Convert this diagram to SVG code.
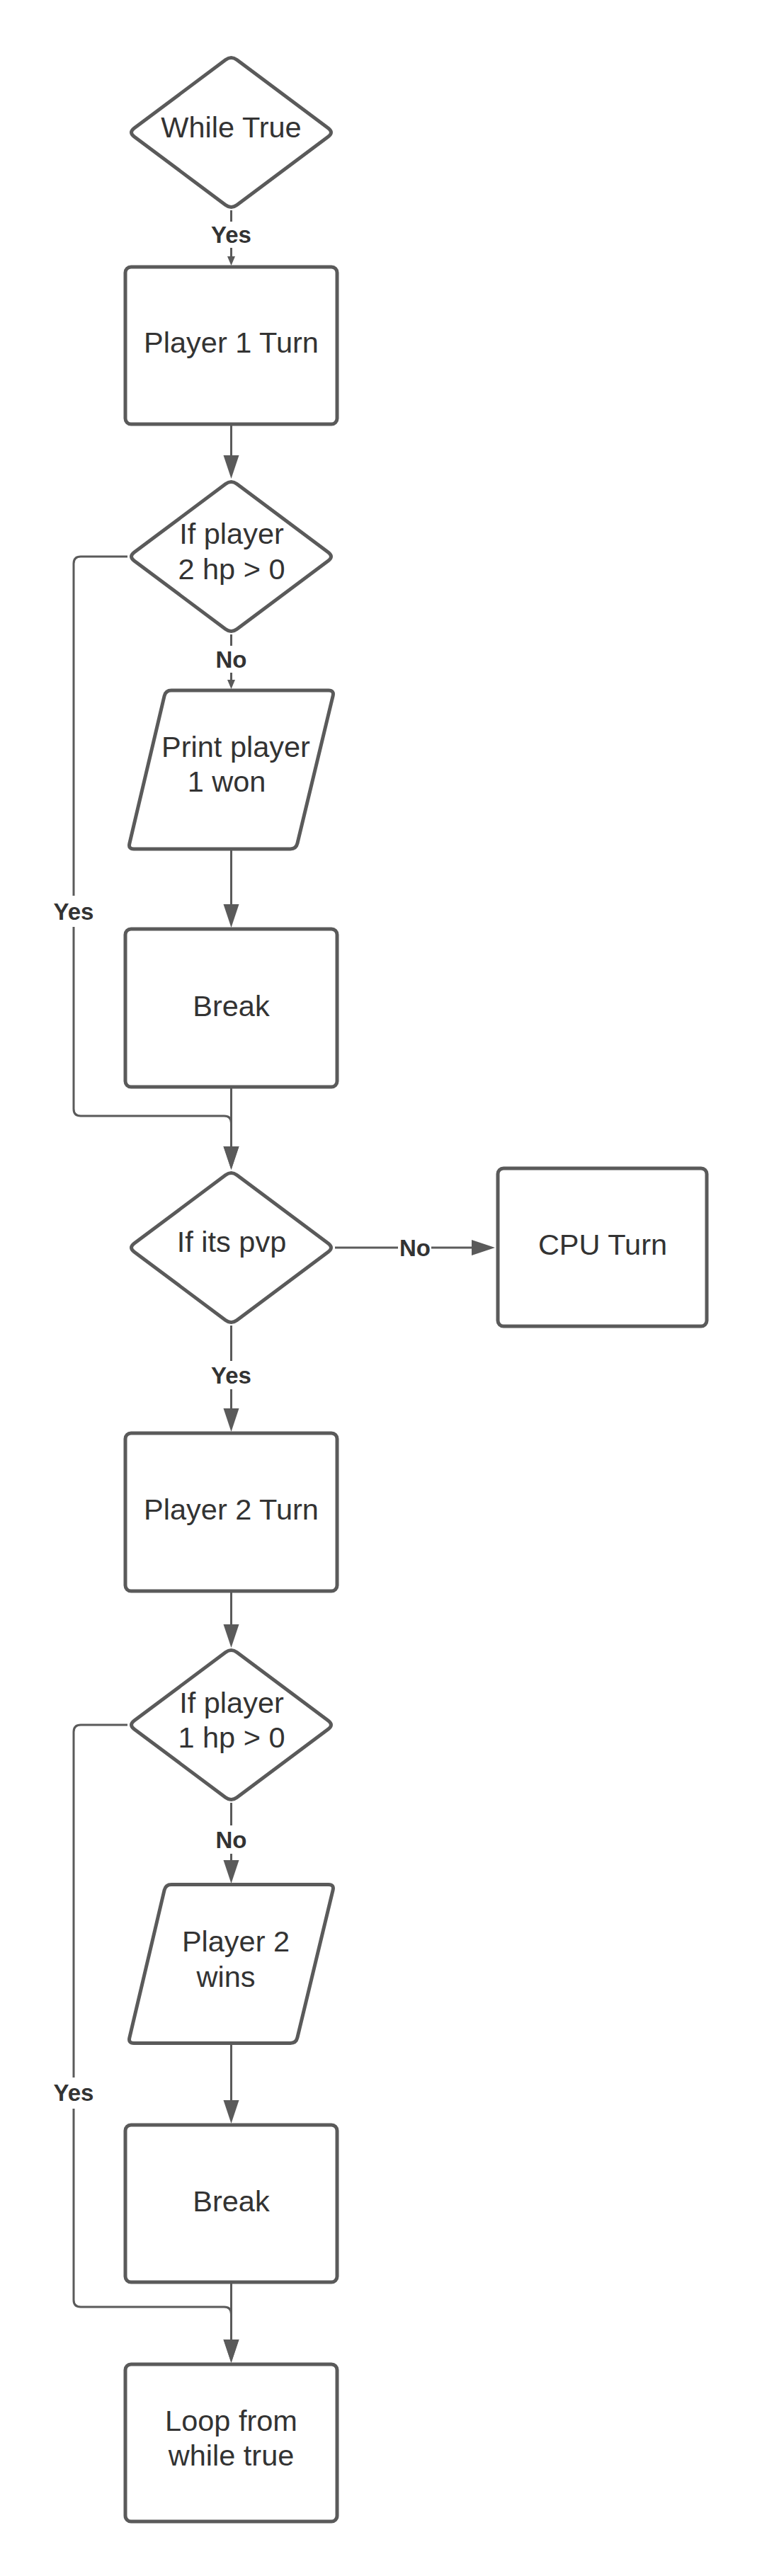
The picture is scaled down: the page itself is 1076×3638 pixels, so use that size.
<svg xmlns="http://www.w3.org/2000/svg" width="1076" height="3638" viewBox="0 0 1076 3638">
<style>
.shape{fill:#ffffff;stroke:#5a5a5a;stroke-width:5;stroke-linejoin:round}
.conn{fill:none;stroke:#5a5a5a;stroke-width:3}
.txt{font-family:"Liberation Sans",Arial,sans-serif;font-size:41.5px;fill:#333333;text-anchor:middle}
.lbl{font-family:"Liberation Sans",Arial,sans-serif;font-size:33px;font-weight:bold;fill:#333333;text-anchor:middle}
.bg{fill:#ffffff}
</style>
<defs>
<path id="dia" d="M-137,-6 L-8,-102.5 Q0,-108.5 8,-102.5 L137,-6 Q145,0 137,6 L8,102.5 Q0,108.5 -8,102.5 L-137,6 Q-145,0 -137,-6 Z"/>
<path id="para" d="M-84.5,-112 L137.5,-112 Q145.5,-112 143.6,-104.2 L93.4,104.2 Q91.5,112 83.5,112 L-137.5,112 Q-145.5,112 -143.6,104.2 L-94.4,-104.2 Q-92.5,-112 -84.5,-112 Z"/>
<marker id="big" markerUnits="userSpaceOnUse" markerWidth="33" markerHeight="22" refX="27" refY="11" orient="auto" overflow="visible">
<path d="M0,0 L33,11 L0,22 Z" fill="#5a5a5a"/>
</marker>
<marker id="small" markerUnits="userSpaceOnUse" markerWidth="13" markerHeight="11" refX="9" refY="5.5" orient="auto" overflow="visible">
<path d="M0,0 L13,5.5 L0,11 Z" fill="#5a5a5a"/>
</marker>
</defs>
<rect width="1076" height="3638" fill="#ffffff"/>

<g id="connectors">
<path class="conn" d="M326.5,297 L326.5,371" marker-end="url(#small)"/>
<path class="conn" d="M326.5,601 L326.5,670" marker-end="url(#big)"/>
<path class="conn" d="M326.5,896 L326.5,969" marker-end="url(#small)"/>
<path class="conn" d="M326.5,1201 L326.5,1304" marker-end="url(#big)"/>
<path class="conn" d="M326.5,1537 L326.5,1646" marker-end="url(#big)"/>
<path class="conn" d="M180,786 L114,786 Q104,786 104,796 L104,1566 Q104,1576 114,1576 L316.5,1576 Q326.5,1576 326.5,1586 L326.5,1646" marker-end="url(#big)"/>
<path class="conn" d="M473,1762 L693,1762" marker-end="url(#big)"/>
<path class="conn" d="M326.5,1872 L326.5,2016" marker-end="url(#big)"/>
<path class="conn" d="M326.5,2249 L326.5,2321" marker-end="url(#big)"/>
<path class="conn" d="M326.5,2546 L326.5,2654" marker-end="url(#big)"/>
<path class="conn" d="M326.5,2887 L326.5,2993" marker-end="url(#big)"/>
<path class="conn" d="M326.5,3225 L326.5,3331" marker-end="url(#big)"/>
<path class="conn" d="M180,2436 L114,2436 Q104,2436 104,2446 L104,3248 Q104,3258 114,3258 L316.5,3258 Q326.5,3258 326.5,3268 L326.5,3331" marker-end="url(#big)"/>
<g id="labels">
<rect class="bg" x="295" y="313" width="63" height="37"/>
<text class="lbl" x="326.5" y="343">Yes</text>
<rect class="bg" x="302" y="912" width="49" height="38"/>
<text class="lbl" x="326.5" y="943">No</text>
<rect class="bg" x="72" y="1265" width="64" height="44"/>
<text class="lbl" x="104" y="1299">Yes</text>
<rect class="bg" x="562" y="1743" width="47" height="38"/>
<text class="lbl" x="586" y="1774">No</text>
<rect class="bg" x="295" y="1922" width="63" height="40"/>
<text class="lbl" x="326.5" y="1954">Yes</text>
<rect class="bg" x="302" y="2578" width="49" height="40"/>
<text class="lbl" x="326.5" y="2610">No</text>
<rect class="bg" x="72" y="2934" width="64" height="44"/>
<text class="lbl" x="104" y="2967">Yes</text>
</g>
</g>

<g id="while-true">
<use href="#dia" class="shape" x="326.5" y="187"/>
<text class="txt" x="326.5" y="194">While True</text>
</g>
<g id="player1-turn">
<rect class="shape" x="177" y="377" width="299" height="222" rx="8"/>
<text class="txt" x="326.5" y="498">Player 1 Turn</text>
</g>
<g id="if-p2-hp">
<use href="#dia" class="shape" x="326.5" y="786"/>
<text class="txt" x="327" y="768">If player</text>
<text class="txt" x="327" y="818">2 hp &gt; 0</text>
</g>
<g id="print-p1-won">
<use href="#para" class="shape" x="326.5" y="1087"/>
<text class="txt" x="333" y="1069">Print player</text>
<text class="txt" x="320" y="1118">1 won</text>
</g>
<g id="break1">
<rect class="shape" x="177" y="1312" width="299" height="223" rx="8"/>
<text class="txt" x="326.5" y="1434.5">Break</text>
</g>
<g id="if-pvp">
<use href="#dia" class="shape" x="326.5" y="1762"/>
<text class="txt" x="327" y="1768">If its pvp</text>
</g>
<g id="cpu-turn">
<rect class="shape" x="703" y="1650" width="295" height="223" rx="8"/>
<text class="txt" x="851" y="1772">CPU Turn</text>
</g>
<g id="player2-turn">
<rect class="shape" x="177" y="2024" width="299" height="223" rx="8"/>
<text class="txt" x="326.5" y="2146">Player 2 Turn</text>
</g>
<g id="if-p1-hp">
<use href="#dia" class="shape" x="326.5" y="2436"/>
<text class="txt" x="327" y="2419">If player</text>
<text class="txt" x="327" y="2468">1 hp &gt; 0</text>
</g>
<g id="p2-wins">
<use href="#para" class="shape" x="326.5" y="2773.5"/>
<text class="txt" x="333" y="2756">Player 2</text>
<text class="txt" x="319" y="2806">wins</text>
</g>
<g id="break2">
<rect class="shape" x="177" y="3001" width="299" height="222" rx="8"/>
<text class="txt" x="326.5" y="3123">Break</text>
</g>
<g id="loop">
<rect class="shape" x="177" y="3339" width="299" height="222" rx="8"/>
<text class="txt" x="326.5" y="3433">Loop from</text>
<text class="txt" x="326.5" y="3482">while true</text>
</g>
</svg>
